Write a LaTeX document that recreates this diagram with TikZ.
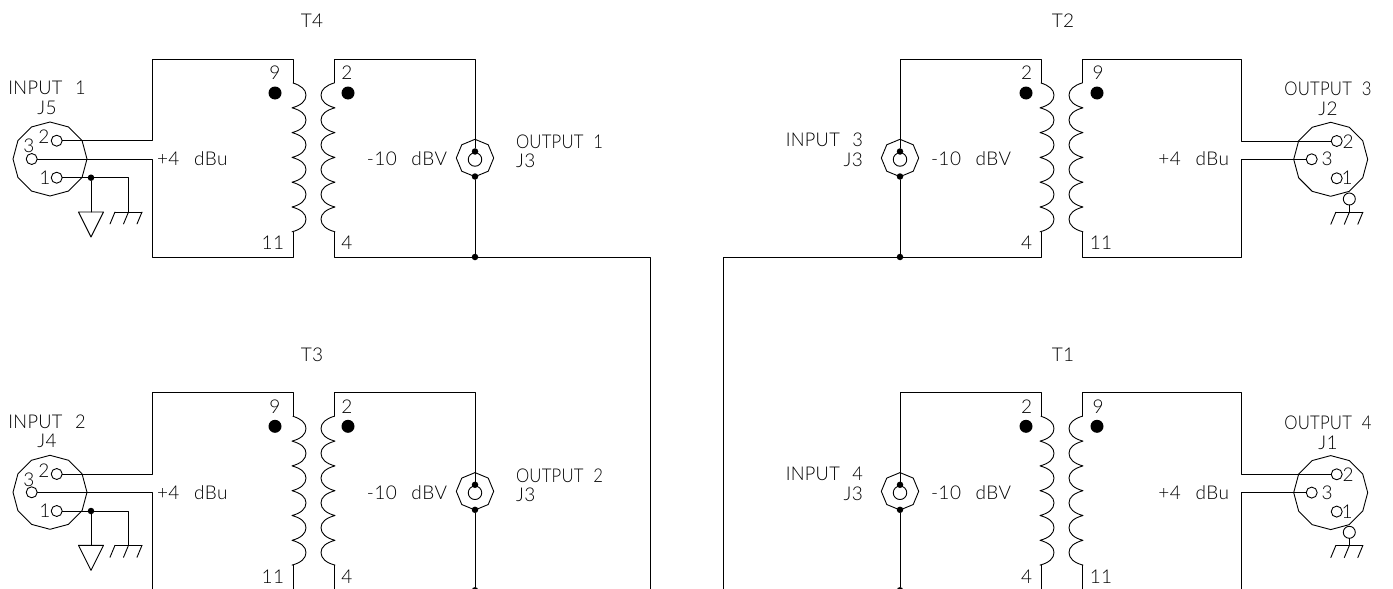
\documentclass[tikz,border=0pt]{standalone}
\usepackage{fontspec}
\setmainfont{Lato Light}[WordSpace=2.6,LetterSpace=2.5]
\newfontfamily\namefont{Lato Light}[WordSpace=2.1,LetterSpace=1,FakeStretch=0.88]
\newfontfamily\inputfont{Lato Light}[WordSpace=2.4,LetterSpace=1.5,FakeStretch=0.96]
\usetikzlibrary{shapes.geometric}
\tikzset{
 wire/.style={line width=0.9pt,line cap=round,line join=round,draw=black},
 lbl/.style={inner sep=0pt,outer sep=0pt,font=\fontsize{19}{20}\selectfont,text height=13.5pt,text depth=0pt,text=black},
 namelbl/.style={lbl,font=\namefont\fontsize{19}{20}\selectfont},
 inlbl/.style={lbl,font=\inputfont\fontsize{19}{20}\selectfont},
 xlrbody/.style={regular polygon,regular polygon sides=12,shape border rotate=15,minimum size=74pt,inner sep=0pt,outer sep=0pt,wire},
 bncbody/.style={regular polygon,regular polygon sides=8,shape border rotate=22.5,minimum size=37.4pt,inner sep=0pt,outer sep=0pt,wire},
 ring/.style={circle,minimum size=11pt,inner sep=0pt,outer sep=0pt,wire},
 bigring/.style={circle,minimum size=13.5pt,inner sep=0pt,outer sep=0pt,wire},
 junction/.style={circle,fill=black,minimum size=6.5pt,inner sep=0pt,outer sep=0pt},
 phase/.style={circle,fill=black,minimum size=13pt,inner sep=0pt,outer sep=0pt},
 coil/.pic={
  \draw[wire] (0,0)
   foreach \i in {0,...,5}{
    .. controls (8,{\i*24.8+2.5}) and (13,{\i*24.8+6.5}) .. (13,{\i*24.8+12.2})
    .. controls (13,{\i*24.8+18}) and (8,{\i*24.8+22.5}) .. (-1,{(\i+1)*24.8}) };
 },
 chassis/.pic={
  \draw[wire] (-13.5,0) -- (13.5,0);
  \foreach \a in {-13.5,0,13.5}{\draw[wire] (\a,0) -- (\a-5,12);}
 }
}
\newcommand{\winding}[2]{\path (#1,83) pic[xscale=#2]{coil};}
\newcommand{\leftblock}[5]{%
 \node[lbl] (title) at (312,21) {#5};
 \coordinate (tl) at (152,59); \coordinate (bl) at (152,257);
 \coordinate (tlc) at (293,59); \coordinate (tle) at (293,83);
 \coordinate (blc) at (293,257); \coordinate (ble) at (293,232);
 \coordinate (trc) at (334,59); \coordinate (tre) at (334,83);
 \coordinate (brc) at (334,257); \coordinate (bre) at (334,232);
 \coordinate (tr) at (475,59);
 \node[junction] (bot) at (475,257) {};
 \winding{293}{1}\winding{334}{-1}
 \node[lbl] (n9) at (275,73) {9};
 \node[lbl] (n2) at (347,73) {2};
 \node[lbl] (n11) at (273,243) {11};
 \node[lbl] (n4) at (347,243) {4};
 \node[phase] (dl) at (275,93) {};
 \node[phase] (dr) at (348,93) {};
 \node[xlrbody] (xlr) at (50,159) {};
 \node[ring] (p2) at (56.7,140.7) {};
 \node[ring] (p3) at (31.7,159) {};
 \node[ring] (p1) at (56.7,177.7) {};
 \node[lbl] (t2) at (44,137) {2};
 \node[lbl] (t3) at (29,146) {3};
 \node[lbl] (t1) at (45,177.7) {1};
 \node[inlbl] (inname) at (47,88) {#1};
 \node[lbl] (injack) at (47,107.5) {#2};
 \node[lbl,anchor=west] (pl) at (157,159) {+4 dBu};
 \node[lbl,anchor=east] (ml) at (447,159) {-10 dBV};
 \node[junction] (gj) at (91,177.7) {};
 \coordinate (gc) at (128.5,177.7);
 \coordinate (gb) at (128.5,212);
 \coordinate (tb) at (91,212);
 \node[bncbody] (bnc) at (475,158) {};
 \node[bigring] (bncin) at (475,159.5) {};
 \node[junction] (bt) at (475,151.5) {};
 \node[junction] (bb) at (475,176.5) {};
 \node[namelbl,anchor=west] (outname) at (516,142) {#3};
 \node[lbl,anchor=west] (outjack) at (516,161) {#4};
 \draw[wire] (p2) -- (p2 -| tl) -- (tl) -- (tlc) -- (tle);
 \draw[wire] (p3) -- (p3 -| bl) -- (bl) -- (blc) -- (ble);
 \draw[wire] (p1) -- (gj) -- (gc) -- (gb);
 \draw[wire] (gj) -- (tb);
 \draw[wire] (tb) ++(-12.5,0) -- ++(25,0) -- (91,237) -- cycle;
 \path (gb) pic{chassis};
 \draw[wire] (tre) -- (trc) -- (tr) -- (bt);
 \draw[wire] (bb) -- (bot);
 \draw[wire] (bre) -- (brc) -- (bot);
}
\newcommand{\rightblock}[5]{%
 \node[lbl] (title) at (1063,21) {#5};
 \coordinate (tl) at (900,59);
 \coordinate (tlc) at (1041,59); \coordinate (tle) at (1041,83);
 \coordinate (blc) at (1041,257); \coordinate (ble) at (1041,232);
 \coordinate (trc) at (1082,59); \coordinate (tre) at (1082,83);
 \coordinate (brc) at (1082,257); \coordinate (bre) at (1082,232);
 \coordinate (tr) at (1241.5,59); \coordinate (br) at (1241.5,257);
 \node[junction] (bot) at (900,257) {};
 \winding{1041}{1}\winding{1082}{-1}
 \node[lbl] (n2) at (1026.5,73) {2};
 \node[lbl] (n9) at (1098,73) {9};
 \node[lbl] (n4) at (1026.5,243) {4};
 \node[lbl] (n11) at (1101,243) {11};
 \node[phase] (dl) at (1026,93) {};
 \node[phase] (dr) at (1097,93) {};
 \node[bncbody] (bnc) at (900,158) {};
 \node[bigring] (bncin) at (900,159.5) {};
 \node[junction] (bt) at (900,151.5) {};
 \node[junction] (bb) at (900,176.5) {};
 \node[inlbl,anchor=east] (inname) at (863,140) {#1};
 \node[lbl,anchor=east] (injack) at (863,160) {#2};
 \node[lbl,anchor=west] (ml) at (931,159) {-10 dBV};
 \node[lbl,anchor=east] (pl) at (1229,159) {+4 dBu};
 \node[xlrbody] (xlr) at (1330.7,159.3) {};
 \node[ring] (p2) at (1336.7,141) {};
 \node[ring] (p3) at (1311.7,159.3) {};
 \node[ring] (p1) at (1336.7,178.3) {};
 \node[ring,minimum size=12pt] (p0) at (1349.3,199) {};
 \node[lbl] (t2) at (1348,141.5) {2};
 \node[lbl] (t3) at (1327,159) {3};
 \node[lbl] (t1) at (1347,178) {1};
 \node[namelbl] (outname) at (1328,89) {#3};
 \node[lbl] (outjack) at (1328,109) {#4};
 \coordinate (gb) at (1349.3,212.3);
 \draw[wire] (p2) -- (p2 -| tr) -- (tr) -- (trc) -- (tre);
 \draw[wire] (p3) -- (p3 -| br) -- (br) -- (brc) -- (bre);
 \draw[wire] (p0) -- (gb);
 \path (gb) pic{chassis};
 \draw[wire] (tle) -- (tlc) -- (tl) -- (bt);
 \draw[wire] (bb) -- (bot);
 \draw[wire] (ble) -- (blc) -- (bot);
}
\begin{document}
\begin{tikzpicture}[x=1pt,y=-1pt]
\useasboundingbox (0,0) rectangle (1393,589);
\clip (0,0) rectangle (1393,589);
\begin{scope}[name prefix=a-]\leftblock{INPUT 1}{J5}{OUTPUT 1}{J3}{T4}\end{scope}
\begin{scope}[shift={(0,333.3)},name prefix=b-]\leftblock{INPUT 2}{J4}{OUTPUT 2}{J3}{T3}\end{scope}
\begin{scope}[name prefix=c-]\rightblock{INPUT 3}{J3}{OUTPUT 3}{J2}{T2}\end{scope}
\begin{scope}[shift={(0,333.3)},name prefix=d-]\rightblock{INPUT 4}{J3}{OUTPUT 4}{J1}{T1}\end{scope}
\coordinate (lb) at (650,257);
\coordinate (lbe) at (650,600);
\coordinate (rb) at (723,257);
\coordinate (rbe) at (723,600);
\draw[wire] (a-bot) -- (lb) -- (lbe);
\draw[wire] (c-bot) -- (rb) -- (rbe);
\end{tikzpicture}
\end{document}
